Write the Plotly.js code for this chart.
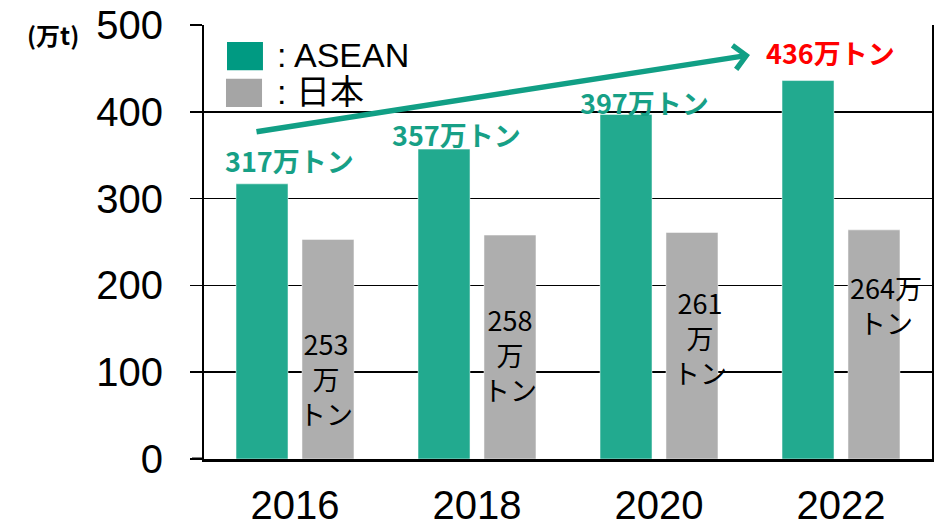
<!DOCTYPE html>
<html>
<head>
<meta charset="utf-8">
<script src="https://cdn.plot.ly/plotly-3.0.1.min.js"></script>
<style>html,body{margin:0;padding:0;background:#fff;}#chart{width:943px;height:529px;}</style>
</head>
<body>
<div id="chart"></div>
<script>
// ---- data ----
const years = ['2016', '2018', '2020', '2022'];
const aseanValues = [317, 357, 397, 436];
const japanValues = [253, 258, 261, 264];
const aseanLabels = ['317万トン', '357万トン', '397万トン', '436万トン'];
const japanLabels = ['253<br>万<br>トン', '258<br>万<br>トン', '261<br>万<br>トン', '264万<br>トン'];
const yTicks = [0, 100, 200, 300, 400, 500];
const seriesNames = ['ASEAN', '日本'];
const unitLabel = '(万t)';

// ---- style ----
const TEAL_BAR = '#22AA8F';
const TEAL_DARK = '#009A82';
const TEAL_TEXT = '#17A086';
const GRAY_BAR = '#AEAEAE';
const GRAY_LEG = '#A5A5A5';
const JP = '"Noto Sans CJK JP", "Noto Sans", sans-serif';
const LAT = '"Liberation Sans", Arial, "Noto Sans CJK JP", sans-serif';

const traces = [
  {type: 'bar', name: seriesNames[0], x: years, y: aseanValues,
   marker: {color: TEAL_BAR, line: {color: 'rgba(255,255,255,0.5)', width: 1}}, hoverinfo: 'none'},
  {type: 'bar', name: seriesNames[1], x: years, y: japanValues,
   marker: {color: GRAY_BAR, line: {color: 'rgba(255,255,255,0.5)', width: 1}}, hoverinfo: 'none'}
];

// label offsets (pixels) relative to category centre / bar top
const aseanXShift = [-6, -21, -15, -11];
const aseanYShift = [23, 15, 12, 28];
const japanXShift = [31, 33, 41, 45];
const japanYShift = [-139, -119, -105, -75];

const annotations = [];
years.forEach((yr, i) => {
  annotations.push({
    x: i, y: aseanValues[i], xref: 'x', yref: 'y',
    text: '<b>' + aseanLabels[i] + '</b>', showarrow: false,
    xanchor: 'center', yanchor: 'middle',
    xshift: aseanXShift[i], yshift: aseanYShift[i],
    font: {family: JP, size: 27, color: i === 3 ? '#FF0000' : TEAL_TEXT}
  });
  annotations.push({
    x: i, y: japanValues[i], xref: 'x', yref: 'y',
    text: japanLabels[i], showarrow: false,
    xanchor: 'center', yanchor: 'middle', align: 'center',
    xshift: japanXShift[i], yshift: japanYShift[i],
    font: {family: JP, size: 27, color: '#000000'}
  });
});

// trend arrow
annotations.push({
  x: 0.75, y: 0.931, xref: 'paper', yref: 'paper',
  ax: -495, ay: 77, axref: 'pixel', ayref: 'pixel',
  text: '', showarrow: true, arrowhead: 4, arrowsize: 0.85, arrowwidth: 5.5,
  arrowcolor: '#119F85', standoff: 0
});

// unit label
annotations.push({
  x: -0.2074, y: 1.0, xref: 'paper', yref: 'paper',
  text: '<b>' + unitLabel + '</b>', showarrow: false,
  xanchor: 'center', yanchor: 'middle', yshift: -9,
  font: {family: JP, size: 24, color: '#000000'}
});

// legend texts
annotations.push({
  x: 0.098, y: 0.93, xref: 'paper', yref: 'paper', xanchor: 'left', yanchor: 'middle',
  text: ': ' + seriesNames[0], showarrow: false,
  font: {family: LAT, size: 34, color: '#000000'}
});
annotations.push({
  x: 0.098, y: 0.845, xref: 'paper', yref: 'paper', xanchor: 'left', yanchor: 'middle',
  text: ': ' + seriesNames[1], showarrow: false,
  font: {family: LAT, size: 34, color: '#000000'}
});

const shapes = [
  {type: 'rect', xref: 'paper', yref: 'paper', x0: 0.0316, x1: 0.081, y0: 0.896, y1: 0.961,
   fillcolor: TEAL_DARK, line: {width: 0}},
  {type: 'rect', xref: 'paper', yref: 'paper', x0: 0.0302, x1: 0.0797, y0: 0.811, y1: 0.876,
   fillcolor: GRAY_LEG, line: {width: 0}},
  // thick baseline extension to the left of the plot (tick at zero)
  {type: 'line', xref: 'paper', yref: 'y', x0: -0.0165, x1: 0, y0: 0, y1: 0,
   line: {color: '#000000', width: 3}}
];

const layout = {
  width: 943, height: 529,
  margin: {l: 204, r: 11, t: 25, b: 70, pad: 0},
  paper_bgcolor: '#ffffff', plot_bgcolor: '#ffffff',
  showlegend: false,
  barmode: 'group', bargap: 0.275, bargroupgap: 0.212,
  xaxis: {
    type: 'category', categoryorder: 'array', categoryarray: years,
    range: [-0.5, years.length - 0.5], autorange: false,
    showline: true, linecolor: '#000000', linewidth: 3,
    ticks: '', showgrid: false, zeroline: false,
    tickfont: {family: LAT, size: 40, color: '#000000'},
    ticklabelstandoff: 9
  },
  yaxis: {
    range: [0, 500], autorange: false, tickvals: yTicks, ticktext: yTicks.map(String),
    showline: true, mirror: true, linecolor: '#000000', linewidth: 2,
    ticks: 'outside', ticklen: 12, tickwidth: 1.5, tickcolor: '#000000',
    showgrid: true, gridcolor: '#000000', gridwidth: 1.5,
    zeroline: false,
    tickfont: {family: LAT, size: 40, color: '#000000'},
    ticklabelstandoff: 19
  },
  annotations: annotations,
  shapes: shapes
};

Plotly.newPlot('chart', traces, layout, {displayModeBar: false, staticPlot: true});
</script>
</body>
</html>
